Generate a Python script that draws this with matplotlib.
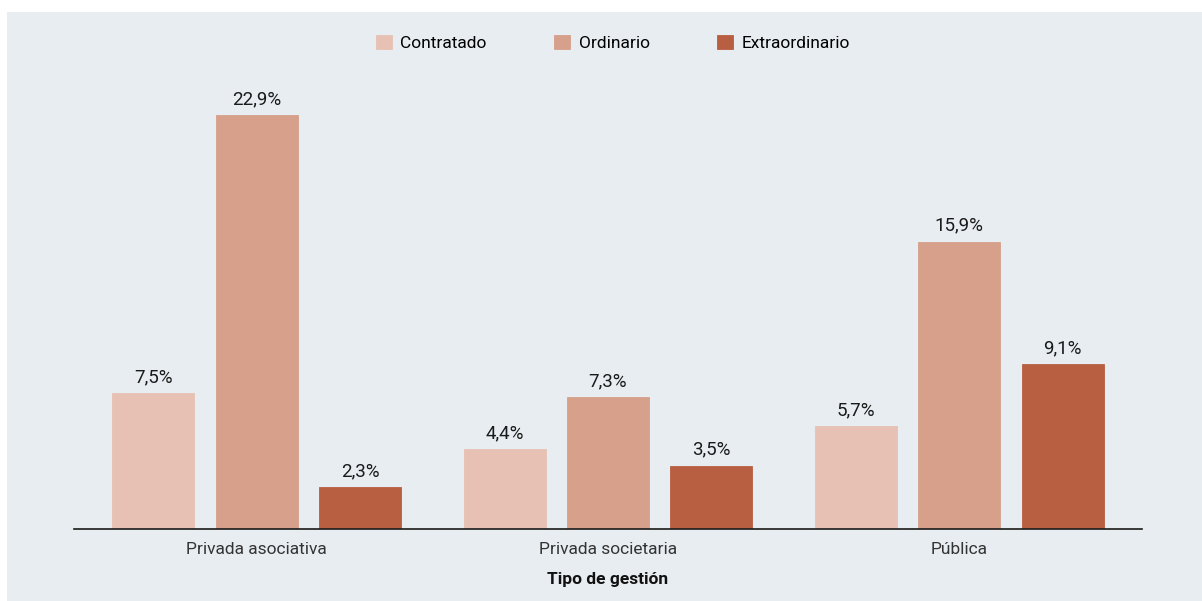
import matplotlib.pyplot as plt
import matplotlib.patches as mpatches
import numpy as np

### DONNEES
categorias = ["Privada asociativa", "Privada societaria", "Pública"]
series = ["Contratado", "Ordinario", "Extraordinario"]
contratado = [7.5, 4.4, 5.7]
ordinario = [22.9, 7.3, 15.9]
extraordinario = [2.3, 3.5, 9.1]
colores = ["#e6c1b4", "#d6a08b", "#b85f41"]

fondo = "#e8edf1"
plt.rcParams['font.family'] = ['Roboto', 'DejaVu Sans']

fig = plt.figure(figsize=(12.02, 6.01), dpi=100)
# panneau gris (marge blanche en haut et à gauche)
fig.patches.append(mpatches.Rectangle((7/1202, 0), 1 - 7/1202, 1 - 12/601,
                                      transform=fig.transFigure, facecolor=fondo,
                                      edgecolor='none', zorder=-10))

ax = fig.add_axes([74/1202, 72/601, 1068/1202, 452/601])
ax.set_facecolor('none')

x = np.arange(len(categorias))
largeur = 0.233
decalage = 0.294
valeurs = [contratado, ordinario, extraordinario]
for i, (nom, vals, c) in enumerate(zip(series, valeurs, colores)):
    barres = ax.bar(x + (i - 1)*decalage, vals, width=largeur, color=c, label=nom,
                    edgecolor=c, linewidth=0.6)
    for b, v in zip(barres, vals):
        ax.annotate(f"{v:.1f}%".replace('.', ','),
                    (b.get_x() + b.get_width()/2, b.get_height()),
                    xytext=(0, 5), textcoords='offset points',
                    ha='center', va='bottom', fontsize=13.5, color='#1a1a1a')

ax.set_xlim(-0.52, 2.52)
ax.set_ylim(0, 25)
ax.set_xticks(x)
ax.set_xticklabels(categorias, fontsize=12.5, color='#333333')
ax.tick_params(axis='x', length=0, pad=9)
ax.set_yticks([])
for s in ['top', 'right', 'left']:
    ax.spines[s].set_visible(False)
ax.spines['bottom'].set_color('#1a1a1a')
ax.spines['bottom'].set_linewidth(1.2)
ax.set_xlabel("Tipo de gestión", fontsize=12.5, fontweight='bold', labelpad=11,
              color='#111111')

fig.legend(loc='center', bbox_to_anchor=(613/1202, 1 - 43/601), ncol=3,
           frameon=False, fontsize=12.5, handlelength=0.9, handleheight=0.9,
           handletextpad=0.5, columnspacing=3.9)

plt.savefig("out.png", dpi=100)
